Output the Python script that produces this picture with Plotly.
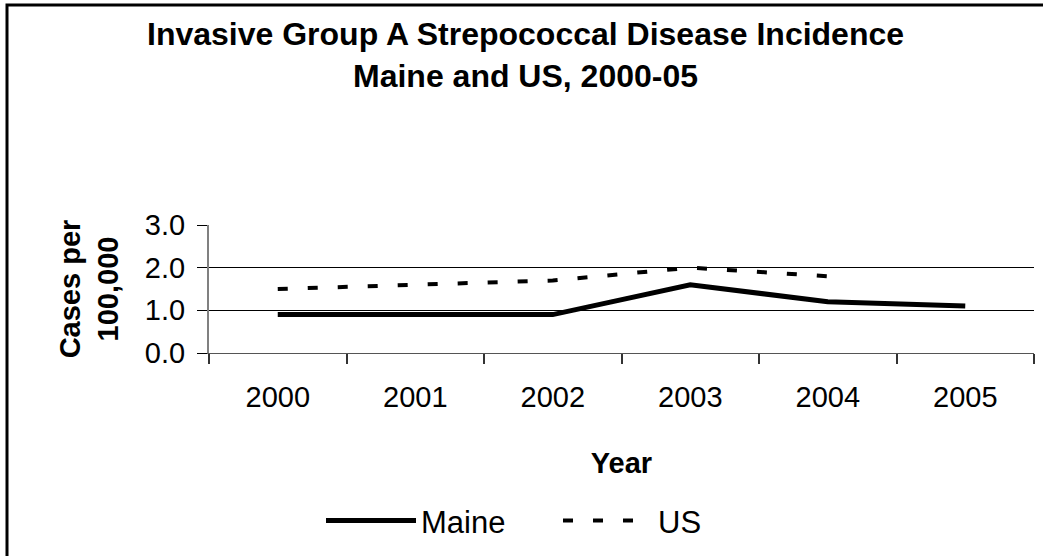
import plotly.graph_objects as go

years = ["2000", "2001", "2002", "2003", "2004", "2005"]
maine = [0.9, 0.9, 0.9, 1.6, 1.2, 1.1]
us = [1.5, 1.6, 1.7, 2.0, 1.8, None]

W, H = 1043, 556
L, R, T, B = 209, 9, 225, 203
pw, ph = W - L - R, H - T - B

fig = go.Figure()
fig.add_trace(go.Scatter(
    x=years, y=maine, name="Maine", mode="lines",
    line=dict(color="#000000", width=5),
))
fig.add_trace(go.Scatter(
    x=years, y=us, name="US", mode="lines",
    line=dict(color="#000000", width=4, dash="10px,20px"),
))

font = "Arial, Liberation Sans, sans-serif"

fig.update_layout(
    width=W, height=H,
    margin=dict(l=L, r=R, t=T, b=B),
    paper_bgcolor="#ffffff",
    plot_bgcolor="#ffffff",
    font=dict(family=font, color="#000000", size=28),
    showlegend=True,
    legend=dict(
        orientation="h",
        x=0.535, xanchor="center", xref="container",
        y=0.063, yanchor="middle", yref="container",
        font=dict(size=31),
        itemwidth=90,
        entrywidth=132,
        bgcolor="rgba(0,0,0,0)",
    ),
    xaxis=dict(
        type="category",
        range=[-0.5, 5.5],
        showgrid=False,
        showline=True, linecolor="#555555", linewidth=1,
        ticks="outside", tickson="boundaries", ticklen=10,
        tickcolor="#333333", tickwidth=2,
        tickfont=dict(size=29),
        ticklabelstandoff=18,
        title=dict(text="<b>Year</b>", font=dict(size=29), standoff=40),
    ),
    yaxis=dict(
        range=[0, 3],
        tickvals=[0, 1, 2, 3],
        ticktext=["0.0", "1.0", "2.0", "3.0"],
        showgrid=True, gridcolor="#000000", gridwidth=1,
        zeroline=False,
        showline=True, linecolor="#808080", linewidth=2,
        ticks="outside", ticklen=10, tickcolor="#000000", tickwidth=1,
        tickfont=dict(size=29),
        ticklabelstandoff=6,
        title=dict(text="<b>Cases per<br>100,000</b>", font=dict(size=29), standoff=18),
    ),
)

# two-line chart title, placed as an annotation
fig.add_annotation(
    text="<b>Invasive Group A Strepococcal Disease Incidence<br>Maine and US, 2000-05</b>",
    xref="paper", yref="paper",
    x=(525 - L) / pw, y=(H - B - 55) / ph,
    xanchor="center", yanchor="middle",
    showarrow=False, align="center",
    font=dict(size=32, color="#000000"),
)

# outer chart border (left and top edges visible in the crop)
fig.add_shape(
    type="rect", xref="paper", yref="paper",
    x0=(7 - L) / pw, x1=1.5,
    y0=-3, y1=(H - B - 5) / ph,
    line=dict(color="#000000", width=3),
    fillcolor="rgba(0,0,0,0)",
    layer="above",
)

fig.write_html(
    "out.html",
    config={"displayModeBar": False},
    post_script="document.body.style.margin='0';",
)
